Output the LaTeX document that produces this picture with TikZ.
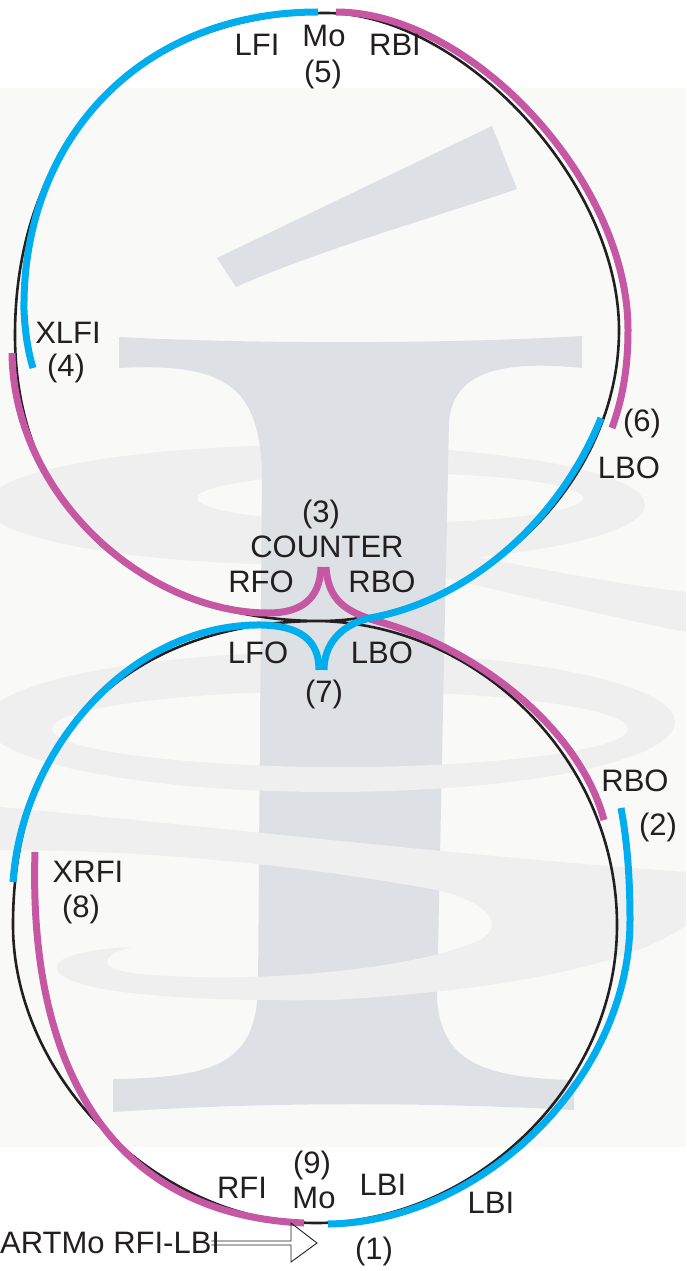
\documentclass[tikz,border=0pt]{standalone}
\usepackage{fontspec}
\setmainfont{Liberation Sans}
\usetikzlibrary{calc}

\definecolor{edgeblue}{RGB}{0,174,239}
\definecolor{edgepink}{RGB}{197,87,163}
\definecolor{ink}{RGB}{35,31,32}
\definecolor{panel}{RGB}{249,249,248}
\definecolor{glyph}{RGB}{221,224,228}
\definecolor{swirl}{RGB}{239,239,239}

\tikzset{
  trace/.style={ink, line width=2.6pt},
  edge/.style={line width=7pt},
  lbl/.style={inner sep=0pt, text=ink, font=\fontsize{31}{33}\selectfont},
}

\begin{document}
\begin{tikzpicture}[x=1pt,y=-1pt]
\useasboundingbox (0,0) rectangle (686,1271);

% watermark: panel, rings behind the letter, the letter, swirl in front
\fill[panel] (0,88) rectangle (686,1147);
\fill[swirl, even odd rule] (315,505) ellipse [x radius=330, y radius=60]
                            (390,498) ellipse [x radius=193, y radius=25];
\fill[swirl] (430,548) .. controls (520,565) and (620,585) .. (686,592)
  -- (686,632) .. controls (600,615) and (500,590) .. (430,575) -- cycle;
\fill[swirl, even odd rule] (330,722) ellipse [x radius=345, y radius=70]
                            (340,729) ellipse [x radius=288, y radius=38];
\fill[glyph] (217,258) -- (492,126) -- (517,189)
  .. controls (420,222) and (320,250) .. (236,287) -- cycle;
\fill[glyph] (119,337) .. controls (250,344) and (450,344) .. (582,336)
  -- (582,368) .. controls (500,360) and (455,372) .. (449,420)
  -- (437,1000) .. controls (442,1060) and (480,1078) .. (574,1080)
  -- (574,1110) .. controls (420,1102) and (260,1102) .. (113,1112)
  -- (113,1079) .. controls (220,1078) and (255,1060) .. (258,990)
  -- (262,470) .. controls (258,390) and (230,362) .. (119,368) -- cycle;
\begin{scope}
  \clip (0,745) rectangle (686,800);
  \fill[swirl, even odd rule] (330,722) ellipse [x radius=345, y radius=70]
                              (340,729) ellipse [x radius=288, y radius=38];
\end{scope}
\fill[swirl] (0,807) .. controls (200,825) and (450,855) .. (686,872)
  -- (686,925) .. controls (640,960) and (520,990) .. (330,1000)
  .. controls (180,1002) and (60,992) .. (57,968)
  .. controls (55,955) and (100,948) .. (131,947)
  .. controls (100,955) and (95,970) .. (140,974)
  .. controls (260,985) and (420,968) .. (480,940)
  .. controls (510,922) and (480,900) .. (437,890)
  .. controls (300,865) and (150,850) .. (0,850) -- cycle;

% the figure eight
\coordinate (top)   at (326,13);
\coordinate (waist) at (320,621);
\coordinate (bot)   at (316,1223);
\draw[trace] (top)
  .. controls (139,13) and (15,142) .. (15,335)
  .. controls (15,520) and (150,621) .. (waist)
  .. controls (480,625) and (617,760) .. (617,925)
  .. controls (617,1090) and (470,1223) .. (bot)
  .. controls (160,1223) and (13,1080) .. (13,925)
  .. controls (13,710) and (155,621) .. (waist)
  .. controls (470,621) and (619,490) .. (619,330)
  .. controls (619,180) and (460,13) .. (top) -- cycle;

% edges
\draw[edge, edgeblue] (318,12) .. controls (140,12) and (22,140) .. (24,310)
  .. controls (25,335) and (29,355) .. (33,368);
\draw[edge, edgepink] (336,12) .. controls (470,12) and (628,180) .. (628,330)
  .. controls (628,370) and (622,400) .. (612,428);
\draw[edge, edgepink] (12,353) .. controls (14,500) and (150,613) .. (268,613)
  .. controls (300,613) and (320,600) .. (321,567);
\draw[edge, edgepink] (326,567) .. controls (328,600) and (345,612) .. (380,622)
  .. controls (480,650) and (580,730) .. (604,820);
\draw[edge, edgeblue] (601,418) .. controls (560,520) and (470,600) .. (370,618)
  .. controls (340,625) and (324,645) .. (324,670);
\draw[edge, edgeblue] (319,670) .. controls (319,640) and (300,626) .. (262,625)
  .. controls (130,623) and (22,750) .. (13,882);
\draw[edge, edgepink] (35,852) .. controls (28,1080) and (120,1215) .. (304,1223);
\draw[edge, edgeblue] (328,1224) .. controls (480,1222) and (630,1080) .. (630,920)
  .. controls (630,870) and (626,835) .. (621,808);

% labels
\node[lbl] (lfi)    at (257,45)   {LFI};
\node[lbl] (mo5)    at (324,36)   {Mo};
\node[lbl] (n5)     at (323,74)   {(5)};
\node[lbl] (rbi)    at (395,45)   {RBI};
\node[lbl] (xlfi)   at (68,333)   {XLFI};
\node[lbl] (n4)     at (66,368)   {(4)};
\node[lbl] (n6)     at (642,423)  {(6)};
\node[lbl] (lbo6)   at (629,468)  {LBO};
\node[lbl] (n3)     at (321,514)  {(3)};
\node[lbl] (counter) at (327,547) {COUNTER};
\node[lbl] (rfo)    at (261,582)  {RFO};
\node[lbl] (rbo3)   at (382,582)  {RBO};
\node[lbl] (lfo)    at (258,653)  {LFO};
\node[lbl] (lbo7)   at (382,653)  {LBO};
\node[lbl] (n7)     at (324,694)  {(7)};
\node[lbl] (rbo2)   at (635,781)  {RBO};
\node[lbl] (n2)     at (658,827)  {(2)};
\node[lbl] (xrfi)   at (88,872)   {XRFI};
\node[lbl] (n8)     at (81,909)   {(8)};
\node[lbl] (n9)     at (312,1165) {(9)};
\node[lbl] (mo9)    at (314,1198) {Mo};
\node[lbl] (rfi)    at (242,1188) {RFI};
\node[lbl] (lbi9)   at (383,1185) {LBI};
\node[lbl] (lbi1)   at (491,1203) {LBI};
\node[lbl] (n1)     at (374,1251) {(1)};
\node[lbl, anchor=west] (artmo) at (0,1243) {ARTMo RFI-LBI};

% start arrow
\coordinate (tip) at (317,1243);
\draw[ink, line width=0.9pt] ($(artmo.east)+(-9,-2)$) -- ($(tip)+(-26,-2)$)
  -- ($(tip)+(-26,-20)$) -- (tip) -- ($(tip)+(-26,19)$)
  -- ($(tip)+(-26,2)$) -- ($(artmo.east)+(-9,2)$);
\end{tikzpicture}
\end{document}
